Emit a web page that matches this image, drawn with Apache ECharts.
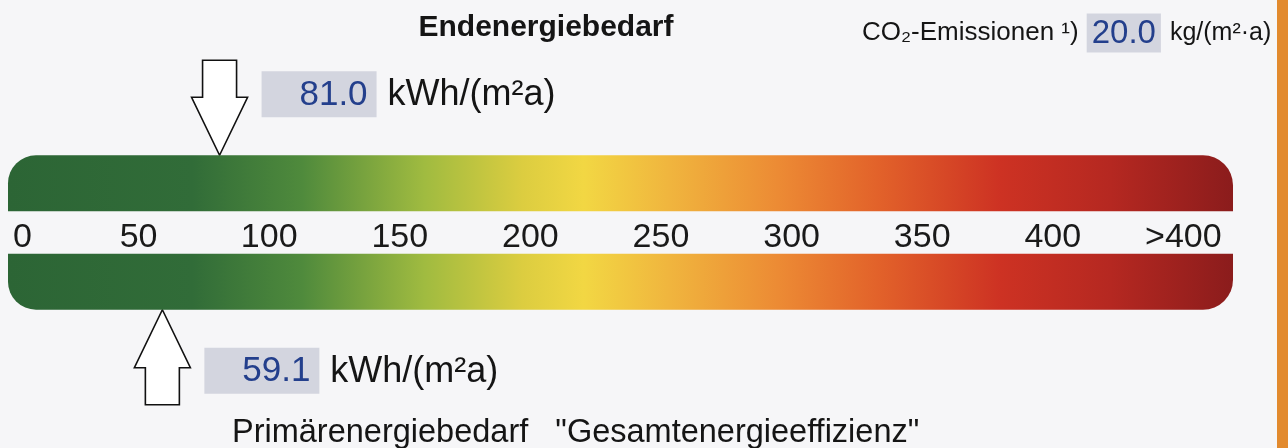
<!DOCTYPE html>
<html><head><meta charset="utf-8">
<script src="https://cdn.jsdelivr.net/npm/echarts@6/dist/echarts.min.js"></script>
<style>html,body{margin:0;padding:0;background:#f6f6f8}#c{width:1288px;height:448px}</style>
</head><body><div id="c"></div>
<script>
// ---- data ----
const scaleMin = 0;
const scaleMax = 469;
const tickValues = [0, 50, 100, 150, 200, 250, 300, 350, 400, 450];
const tickLabels = ['0', '50', '100', '150', '200', '250', '300', '350', '400', '>400'];
const bandNames = ['Endenergiebedarf', 'Primärenergiebedarf'];
const demandValues = [81.0, 59.1];
const demandUnit = 'kWh/(m²a)';
const co2Label = 'CO₂-Emissionen ¹)';
const co2Value = 20.0;
const co2Unit = 'kg/(m²·a)';
const titleText = 'Endenergiebedarf';
const footerText = 'Primärenergiebedarf   "Gesamtenergieeffizienz"';

// ---- styles ----
const FONT = '"Liberation Sans", Arial, sans-serif';
const BAR_H = 56;
const BLUE = '#233f8c';
const BOXBG = '#d3d5df';
const INK = '#151515';

const chart = echarts.init(document.getElementById('c'), null, {renderer: 'canvas'});

const grad = new echarts.graphic.LinearGradient(0, 0, 1, 0, [
  {offset: 0.00, color: '#2c6535'},
  {offset: 0.15, color: '#316c38'},
  {offset: 0.24, color: '#4f8a3c'},
  {offset: 0.34, color: '#a0bb40'},
  {offset: 0.42, color: '#dccd40'},
  {offset: 0.47, color: '#f2d743'},
  {offset: 0.54, color: '#f0b53e'},
  {offset: 0.63, color: '#ec8a34'},
  {offset: 0.71, color: '#e2622a'},
  {offset: 0.81, color: '#cd3223'},
  {offset: 0.90, color: '#b52821'},
  {offset: 1.00, color: '#8b1c1c'}
]);

function renderArrow(params, api) {
  const i = params.dataIndex;
  const p = api.coord([api.value(0), api.value(1)]);
  const x = p[0];
  const dir = i === 0 ? -1 : 1;
  const tipY = p[1] + dir * BAR_H / 2;
  const HW = 28, SW = 17, HL = 58, L = 95;
  const pts = [
    [x, tipY],
    [x + HW, tipY + dir * HL],
    [x + SW, tipY + dir * HL],
    [x + SW, tipY + dir * L],
    [x - SW, tipY + dir * L],
    [x - SW, tipY + dir * HL],
    [x - HW, tipY + dir * HL]
  ];
  const boxX = x + 42, boxW = 115, boxH = 46;
  const boxCY = tipY + dir * 61;
  return {
    type: 'group',
    children: [
      {type: 'polygon', shape: {points: pts},
       style: {fill: '#ffffff', stroke: '#111', lineWidth: 1.6}},
      {type: 'rect', shape: {x: boxX, y: boxCY - boxH / 2, width: boxW, height: boxH},
       style: {fill: BOXBG}},
      {type: 'text', style: {text: api.value(0).toFixed(1), x: boxX + boxW - 9, y: boxCY + 1,
        align: 'right', verticalAlign: 'middle', font: '35px ' + FONT, fill: BLUE}},
      {type: 'text', style: {text: demandUnit, x: boxX + boxW + 11, y: boxCY + 1,
        align: 'left', verticalAlign: 'middle', font: '36px ' + FONT, fill: INK}}
    ]
  };
}

const option = {
  backgroundColor: '#f6f6f8',
  animation: false,
  grid: {left: 8, right: 55, top: 134, height: 197},
  xAxis: {
    type: 'value', min: scaleMin, max: scaleMax, interval: 50,
    position: 'bottom', offset: -93,
    axisLine: {show: false}, axisTick: {show: false}, splitLine: {show: false},
    axisLabel: {
      margin: 0, verticalAlign: 'middle', fontSize: 34, fontFamily: FONT, color: '#1a1a1a',
      alignMinLabel: 'left',
      rich: {z: {fontSize: 34, fontFamily: FONT, color: '#1a1a1a', padding: [0, 0, 0, 5]}},
      formatter: function (v) {
        const k = tickValues.indexOf(v);
        if (k < 0) return '';
        return k === 0 ? '{z|' + tickLabels[k] + '}' : tickLabels[k];
      }
    }
  },
  yAxis: {type: 'category', data: bandNames, inverse: true, show: false},
  series: [
    {
      type: 'bar', silent: true, barWidth: BAR_H,
      data: [
        {value: scaleMax, itemStyle: {color: grad, borderRadius: [28, 30, 0, 0]}},
        {value: scaleMax, itemStyle: {color: grad, borderRadius: [0, 0, 30, 28]}}
      ]
    },
    {
      type: 'custom', silent: true, clip: false,
      renderItem: renderArrow,
      data: demandValues.map((v, i) => [v, i])
    }
  ],
  graphic: [
    {type: 'rect', shape: {x: 1277, y: 0, width: 11, height: 448}, style: {fill: '#e28a2e'}},
    {type: 'text', style: {text: titleText, x: 546, y: 28, align: 'center', verticalAlign: 'middle',
      font: 'bold 30px ' + FONT, fill: INK}},
    {type: 'text', style: {
      text: '{a|' + co2Label + '}{v|' + co2Value.toFixed(1) + '}{u|' + co2Unit + '}',
      x: 862, y: 33, align: 'left', verticalAlign: 'middle',
      rich: {
        a: {fontSize: 26, fontFamily: FONT, fill: INK, padding: [0, 8, 0, 0]},
        v: {fontSize: 33, fontFamily: FONT, fill: BLUE, backgroundColor: BOXBG, padding: [4, 5, 2, 5]},
        u: {fontSize: 25, fontFamily: FONT, fill: INK, padding: [0, 0, 0, 9]}
      }
    }},
    {type: 'text', style: {text: footerText, x: 232, y: 433, align: 'left', verticalAlign: 'middle',
      font: '32.5px ' + FONT, fill: INK}}
  ]
};
chart.setOption(option);
</script>
</body></html>
